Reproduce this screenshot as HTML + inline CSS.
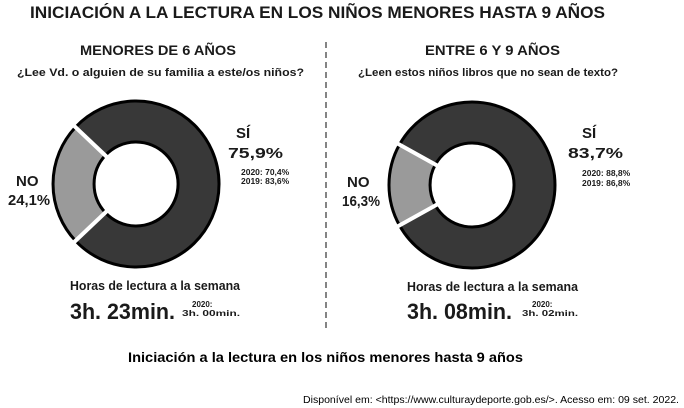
<!DOCTYPE html>
<html><head><meta charset="utf-8"><style>
html,body{margin:0;padding:0;background:#fff;}
svg{display:block;font-family:"Liberation Sans",sans-serif;}
</style></head><body>
<svg width="684" height="408" viewBox="0 0 684 408" xmlns="http://www.w3.org/2000/svg">
<text x="30" y="18" font-size="17" font-weight="bold" fill="#1a1a1a" textLength="575" lengthAdjust="spacingAndGlyphs">INICIACIÓN A LA LECTURA EN LOS NIÑOS MENORES HASTA 9 AÑOS</text>
<line x1="326" y1="42" x2="326" y2="328" stroke="#333" stroke-width="1.2" stroke-dasharray="6,4"/>
<g fill="#1a1a1a" font-weight="bold">
<text x="80" y="55" font-size="14" textLength="156" lengthAdjust="spacingAndGlyphs">MENORES DE 6 AÑOS</text>
<text x="17" y="76" font-size="11" textLength="287" lengthAdjust="spacingAndGlyphs">¿Lee Vd. o alguien de su familia a este/os niños?</text>
<text x="425" y="55" font-size="14" textLength="135" lengthAdjust="spacingAndGlyphs">ENTRE 6 Y 9 AÑOS</text>
<text x="358" y="76" font-size="11" textLength="260" lengthAdjust="spacingAndGlyphs">¿Leen estos niños libros que no sean de texto?</text>
</g>
<!-- donut 1 -->
<path d="M75.7,127 A83,83 0 1 1 75.7,241 L105.5,212.8 A42,42 0 1 0 105.5,155.2 Z" fill="#383838" stroke="#000" stroke-width="3"/>
<path d="M75.7,241 A83,83 0 0 1 75.7,127 L105.5,155.2 A42,42 0 0 0 105.5,212.8 Z" fill="#9a9a9a" stroke="#000" stroke-width="3"/>
<line x1="108" y1="158" x2="70" y2="122" stroke="#fff" stroke-width="4"/>
<line x1="108" y1="210" x2="70" y2="246" stroke="#fff" stroke-width="4"/>
<!-- donut 2 -->
<path d="M399.6,144.4 A83,83 0 1 1 399.6,225.6 L435.4,205.5 A42,42 0 1 0 435.4,164.5 Z" fill="#383838" stroke="#000" stroke-width="3"/>
<path d="M399.6,225.6 A83,83 0 0 1 399.6,144.4 L435.4,164.5 A42,42 0 0 0 435.4,205.5 Z" fill="#9a9a9a" stroke="#000" stroke-width="3"/>
<line x1="438" y1="166" x2="393" y2="141" stroke="#fff" stroke-width="4"/>
<line x1="438" y1="204" x2="393" y2="229" stroke="#fff" stroke-width="4"/>
<g fill="#1a1a1a" font-weight="bold">
<text x="236" y="138" font-size="15">SÍ</text>
<text x="228" y="158" font-size="15" textLength="55" lengthAdjust="spacingAndGlyphs">75,9%</text>
<text x="241" y="175" font-size="8.5">2020: 70,4%</text>
<text x="241" y="184" font-size="8.5">2019: 83,6%</text>
<text x="16" y="186" font-size="15">NO</text>
<text x="8" y="205" font-size="15" textLength="42" lengthAdjust="spacingAndGlyphs">24,1%</text>
<text x="582" y="138" font-size="15">SÍ</text>
<text x="568" y="158" font-size="15" textLength="55" lengthAdjust="spacingAndGlyphs">83,7%</text>
<text x="582" y="176" font-size="8.5">2020: 88,8%</text>
<text x="582" y="186" font-size="8.5">2019: 86,8%</text>
<text x="347" y="187" font-size="15">NO</text>
<text x="342" y="206" font-size="15" textLength="38" lengthAdjust="spacingAndGlyphs">16,3%</text>
<text x="70" y="290" font-size="12.5" textLength="170" lengthAdjust="spacingAndGlyphs">Horas de lectura a la semana</text>
<text x="70" y="319" font-size="22" textLength="105" lengthAdjust="spacingAndGlyphs">3h. 23min.</text>
<text x="192" y="307" font-size="8">2020:</text>
<text x="182" y="316" font-size="8" textLength="58" lengthAdjust="spacingAndGlyphs">3h. 00min.</text>
<text x="407" y="291" font-size="12.5" textLength="171" lengthAdjust="spacingAndGlyphs">Horas de lectura a la semana</text>
<text x="407" y="319" font-size="22" textLength="105" lengthAdjust="spacingAndGlyphs">3h. 08min.</text>
<text x="532" y="307" font-size="8">2020:</text>
<text x="522" y="316" font-size="8" textLength="56" lengthAdjust="spacingAndGlyphs">3h. 02min.</text>
</g>
<text x="128" y="362" font-size="14" font-weight="bold" fill="#000" textLength="395" lengthAdjust="spacingAndGlyphs">Iniciación a la lectura en los niños menores hasta 9 años</text>
<text x="303" y="403" font-size="10" fill="#000" textLength="376" lengthAdjust="spacingAndGlyphs">Disponível em: &lt;https://www.culturaydeporte.gob.es/&gt;. Acesso em: 09 set. 2022.</text>
</svg>
</body></html>
